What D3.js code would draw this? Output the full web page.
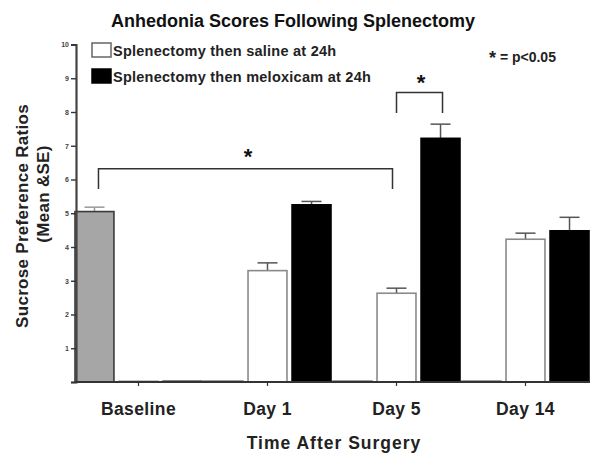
<!DOCTYPE html>
<html><head><meta charset="utf-8">
<script src="https://cdn.jsdelivr.net/npm/d3@7"></script>
<style>
html,body{margin:0;padding:0;background:#fff;}
svg{display:block;font-family:"Liberation Sans",Arial,sans-serif;}
</style></head>
<body><svg id="c" width="595" height="454"></svg>
<script>
const groups = ["Baseline", "Day 1", "Day 5", "Day 14"];
const seriesNames = ["Baseline", "Splenectomy then saline at 24h", "Splenectomy then meloxicam at 24h"];
const baselineVals = [5.05, 0.02, 0.02, 0.02];
const salineVals   = [0.02, 3.30, 2.63, 4.23];
const meloxVals    = [0.02, 5.25, 7.22, 4.48];
const baselineErr  = [0.13, 0, 0, 0];
const salineErr    = [0, 0.23, 0.15, 0.18];
const meloxErr     = [0, 0.10, 0.42, 0.40];
const yTicks = [0,1,2,3,4,5,6,7,8,9,10];

const fills   = ["#a6a6a6", "#ffffff", "#000000"];
const strokes = ["#3a3a3a", "#8a8a8a", "#000000"];
const errCol  = ["#999999", "#555555", "#555555"];

const svg = d3.select("#c");
const x0 = d3.scaleBand().domain(groups).range([74, 590]).paddingInner(0).paddingOuter(0);
const x1 = d3.scaleBand().domain([0,1,2]).range([0, x0.bandwidth()]).paddingInner(0.07).paddingOuter(0.0);
const y = d3.scaleLinear().domain([0, 10]).range([382, 44.5]);

const vals = [baselineVals, salineVals, meloxVals];
const errs = [baselineErr, salineErr, meloxErr];
const data = [];
groups.forEach((g, gi) => {
  [0,1,2].forEach(s => data.push({g, s, v: vals[s][gi], e: errs[s][gi]}));
});

// error bars (behind bars)
const eb = svg.append("g");
data.filter(d => d.e > 0).forEach(d => {
  const cx = x0(d.g) + x1(d.s) + x1.bandwidth()/2;
  eb.append("line").attr("x1", cx).attr("x2", cx).attr("y1", y(d.v)).attr("y2", y(d.v + d.e))
    .attr("stroke", errCol[d.s]).attr("stroke-width", 1.5);
  eb.append("line").attr("x1", cx - 10).attr("x2", cx + 10).attr("y1", y(d.v + d.e)).attr("y2", y(d.v + d.e))
    .attr("stroke", errCol[d.s]).attr("stroke-width", 1.5);
});

// bars
svg.append("g").selectAll("rect").data(data).join("rect")
  .attr("x", d => x0(d.g) + x1(d.s) + 1)
  .attr("width", x1.bandwidth() - 2)
  .attr("y", d => y(d.v))
  .attr("height", d => y(0) - y(d.v))
  .attr("fill", d => fills[d.s])
  .attr("stroke", d => strokes[d.s])
  .attr("stroke-width", 1.6);

// y axis
const yAxis = d3.axisLeft(y).tickValues(yTicks).tickSize(5).tickPadding(2).tickFormat(d => d === 0 ? "" : d);
const ya = svg.append("g").attr("transform", "translate(76,0)").call(yAxis);
ya.select(".domain").attr("stroke", "#444").attr("stroke-width", 2.2);
ya.selectAll(".tick line").attr("stroke", "#333").attr("stroke-width", 1.4);
ya.selectAll(".tick text").attr("font-size", 7).attr("font-weight", "bold").attr("fill", "#444")
  .attr("font-family", "Liberation Sans, Arial, sans-serif");

// x axis
svg.append("line").attr("x1", 75).attr("x2", 590).attr("y1", y(0)).attr("y2", y(0))
  .attr("stroke", "#333").attr("stroke-width", 2);
const xg = svg.append("g");
groups.forEach(g => {
  const cx = x0(g) + x1(1) + x1.bandwidth()/2;
  xg.append("line").attr("x1", cx).attr("x2", cx).attr("y1", y(0)).attr("y2", y(0) + 4)
    .attr("stroke", "#333").attr("stroke-width", 1.2);
  xg.append("text").attr("x", cx).attr("y", 415).attr("text-anchor", "middle")
    .attr("font-size", 17.5).attr("letter-spacing", 0.4).attr("font-weight", "bold").attr("fill", "#222").text(g);
});

// axis titles
svg.append("text").attr("x", 334).attr("y", 449).attr("text-anchor", "middle")
  .attr("font-size", 17.5).attr("letter-spacing", 1).attr("font-weight", "bold").attr("fill", "#222").text("Time After Surgery");
svg.append("text").attr("transform", "translate(28,216) rotate(-90)").attr("text-anchor", "middle")
  .attr("font-size", 17).attr("letter-spacing", 0.3).attr("font-weight", "bold").attr("fill", "#222").text("Sucrose Preference Ratios");
svg.append("text").attr("transform", "translate(49,194) rotate(-90)").attr("text-anchor", "middle")
  .attr("font-size", 17).attr("letter-spacing", 0.3).attr("font-weight", "bold").attr("fill", "#222").text("(Mean &SE)");

// title
svg.append("text").attr("x", 293).attr("y", 27).attr("text-anchor", "middle")
  .attr("font-size", 18).attr("font-weight", "bold").attr("fill", "#111").text("Anhedonia Scores Following Splenectomy");

// legend
const lg = svg.append("g");
[1,2].forEach((s, i) => {
  const yy = 43 + i * 26;
  lg.append("rect").attr("x", 92).attr("y", yy).attr("width", 19).attr("height", 14)
    .attr("fill", fills[s]).attr("stroke", s === 1 ? "#666" : "#000").attr("stroke-width", 1.5);
  lg.append("text").attr("x", 113).attr("y", yy + 13).attr("font-size", 14.5).attr("letter-spacing", 0.25).attr("font-weight", "bold")
    .attr("fill", "#222").text(seriesNames[s]);
});
const pl = svg.append("text").attr("x", 489).attr("y", 62).attr("font-size", 14).attr("font-weight", "bold")
  .attr("fill", "#222");
pl.append("tspan").attr("font-size", 18).attr("dy", 2).text("*");
pl.append("tspan").attr("dy", -2).text(" = p<0.05");

// significance brackets
function bracket(xa, xb, yTop, yLeg, starX, starY) {
  svg.append("path").attr("d", `M${xa},${y(yLeg)}V${y(yTop)}H${xb}V${y(yLeg)}`)
    .attr("fill", "none").attr("stroke", "#333").attr("stroke-width", 1.5);
  svg.append("text").attr("x", starX).attr("y", starY).attr("text-anchor", "middle")
    .attr("font-size", 22).attr("font-weight", "bold").attr("fill", "#111").text("*");
}
const cBaseGray = x0("Baseline") + x1(0) + x1.bandwidth()/2;
const cDay5Sal = x0("Day 5") + x1(1) + x1.bandwidth()/2;
const cDay5Mel = x0("Day 5") + x1(2) + x1.bandwidth()/2;
bracket(cBaseGray + 4, cDay5Sal - 4, 6.32, 5.72, 248, 164);
bracket(cDay5Sal, cDay5Mel + 2, 8.58, 7.97, 421, 90);
</script></body></html>
